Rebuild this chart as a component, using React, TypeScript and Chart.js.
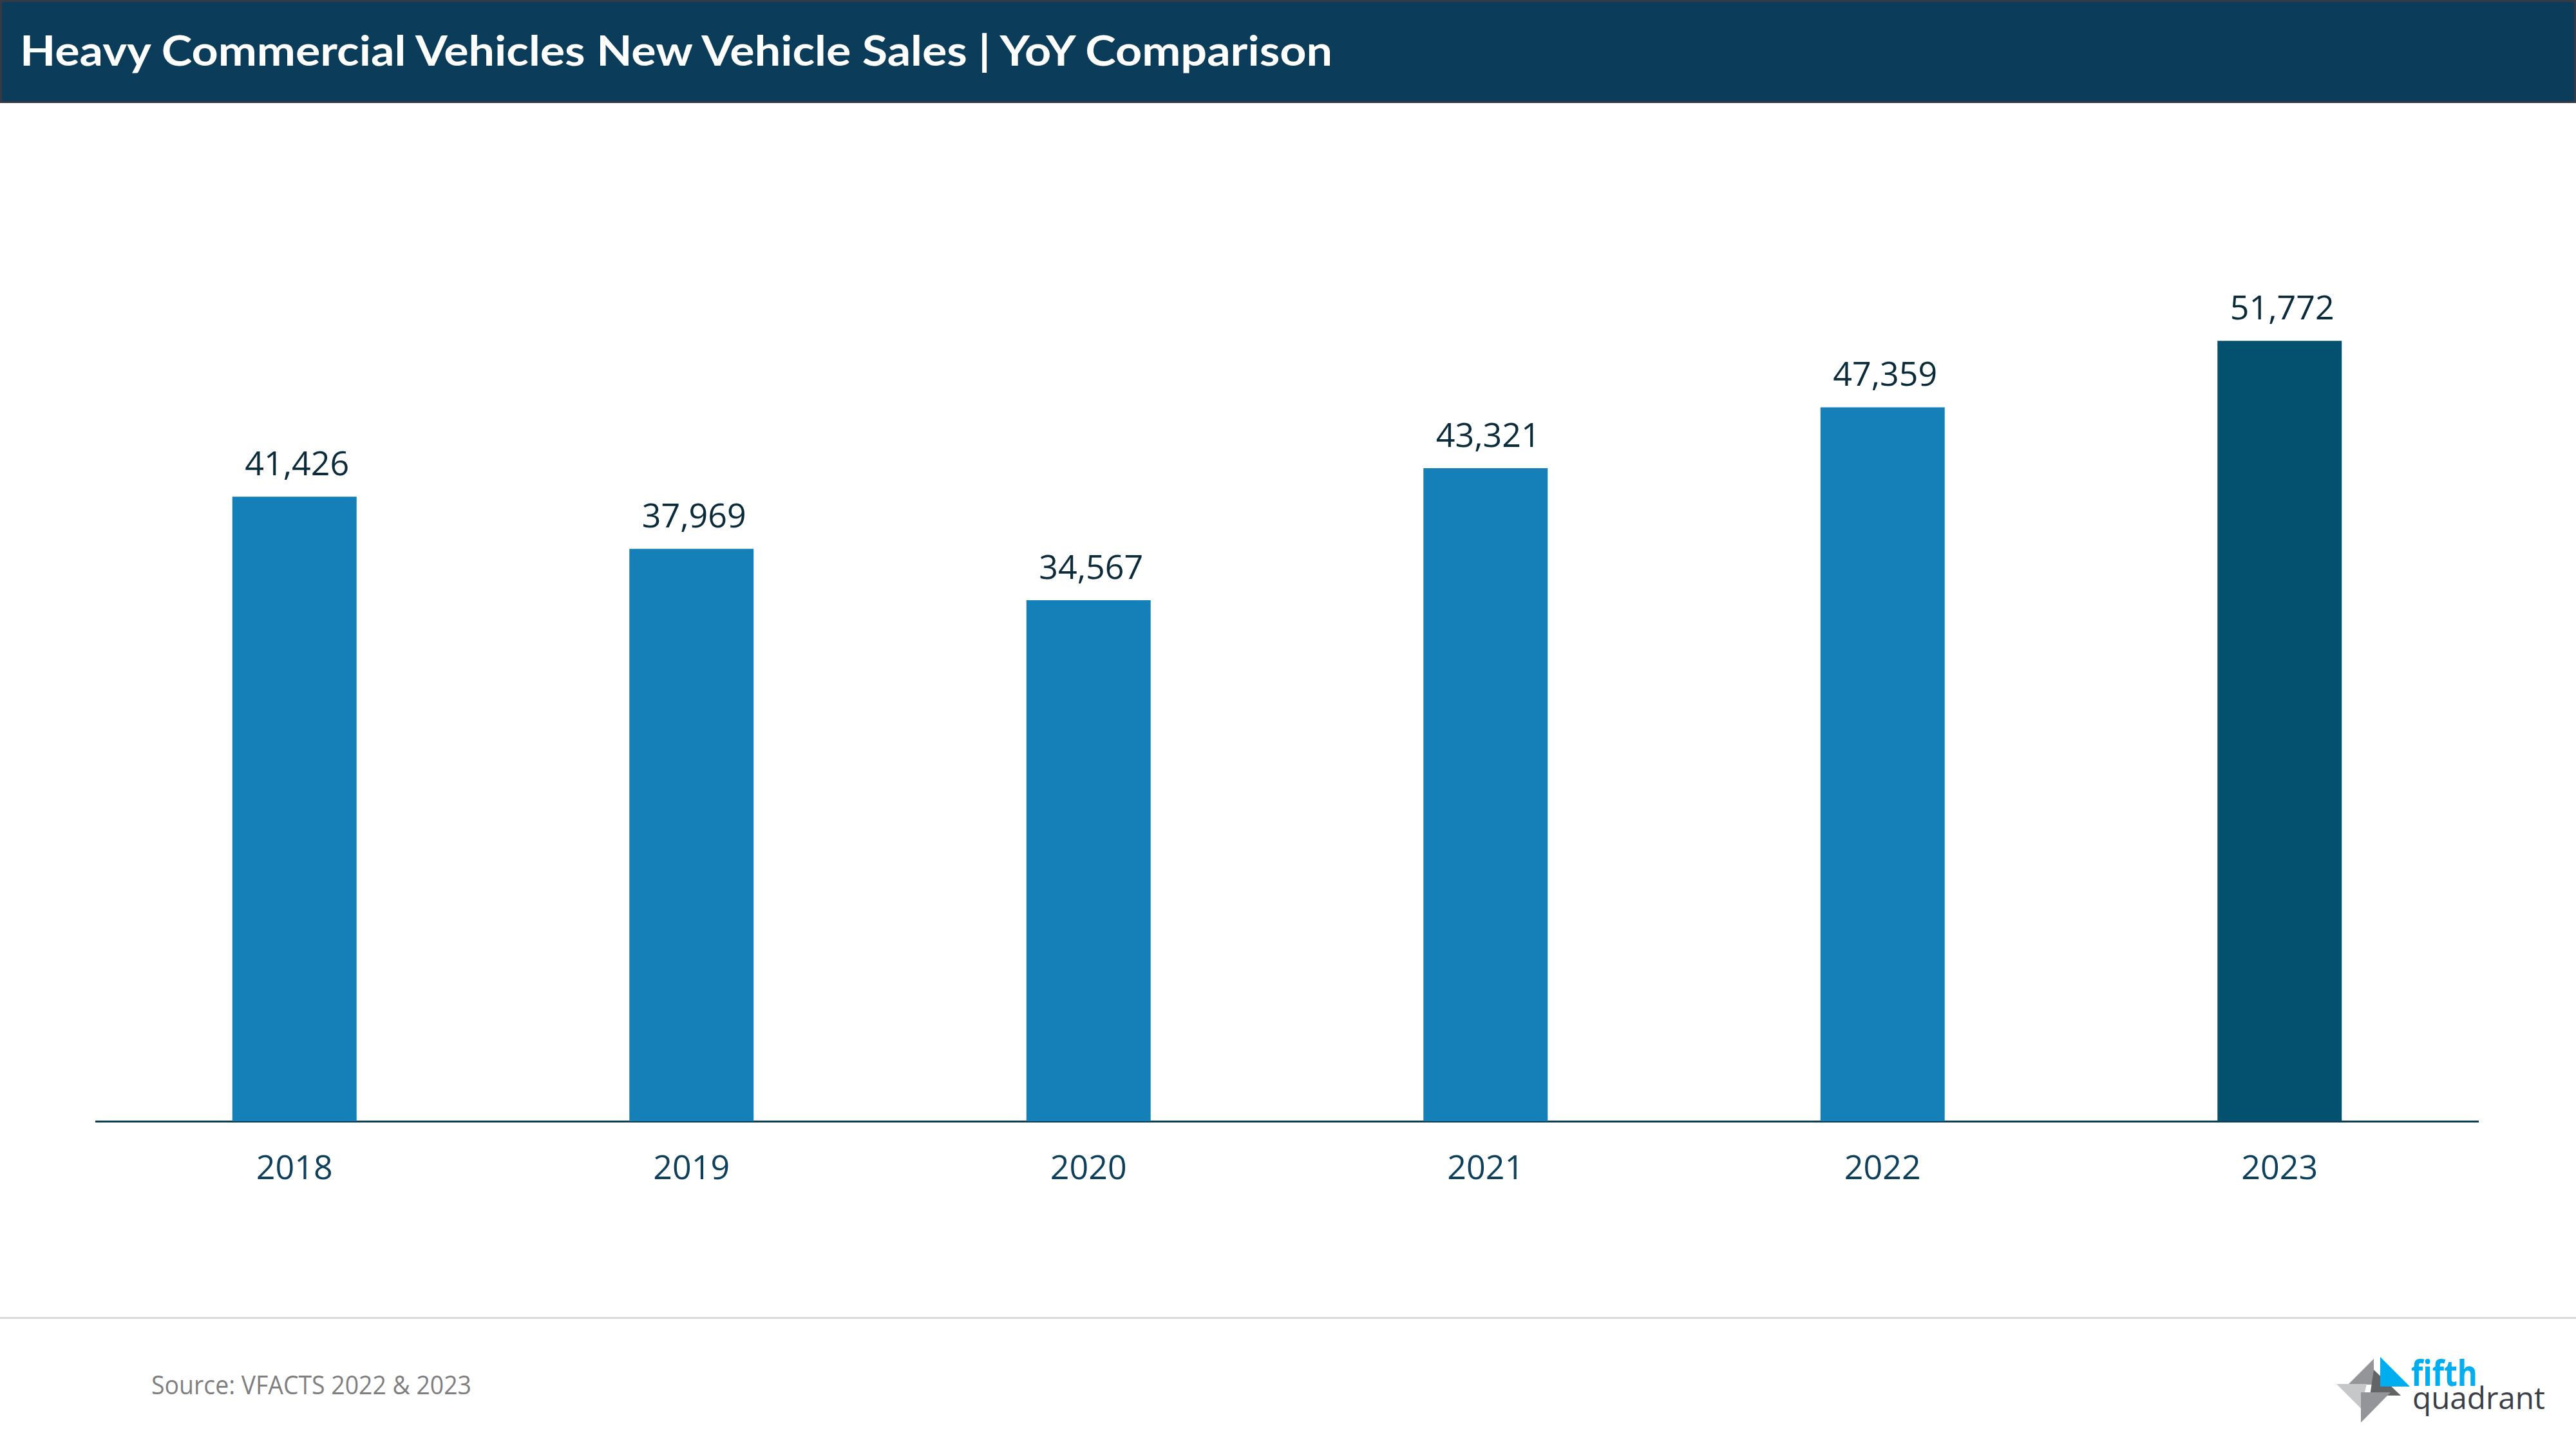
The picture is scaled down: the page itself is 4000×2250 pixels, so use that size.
import React, { useEffect, useRef } from "react";
import { Chart, registerables } from "chart.js";

Chart.register(...registerables);

const years = ["2018", "2019", "2020", "2021", "2022", "2023"];
const sales = [41426, 37969, 34567, 43321, 47359, 51772];
const barColors = ["#157fb8", "#157fb8", "#157fb8", "#157fb8", "#157fb8", "#03506f"];
const yMax = 60000;
const titleText = "Heavy Commercial Vehicles New Vehicle Sales | YoY Comparison";
const sourceText = "Source: VFACTS 2022 & 2023";

const labelPlugin = {
  id: "barLabels",
  afterDatasetsDraw(chart: any) {
    const ctx = chart.ctx;
    const meta = chart.getDatasetMeta(0);
    ctx.save();
    ctx.font = "52px 'Open Sans'";
    ctx.fillStyle = "#0b2b3b";
    ctx.textAlign = "center";
    ctx.textBaseline = "alphabetic";
    meta.data.forEach((bar: any, i: number) => {
      ctx.fillText(sales[i].toLocaleString("en-US"), bar.x + 4, bar.y - 33);
    });
    ctx.restore();
  },
};

export default function App() {
  const canvasRef = useRef<HTMLCanvasElement | null>(null);

  useEffect(() => {
    const canvas = canvasRef.current;
    if (!canvas) return;
    const chart = new Chart(canvas, {
      type: "bar",
      data: {
        labels: years,
        datasets: [
          {
            data: sales,
            backgroundColor: barColors,
            barPercentage: 0.313,
            categoryPercentage: 1,
            borderWidth: 0,
          },
        ],
      },
      options: {
        responsive: false,
        animation: false,
        devicePixelRatio: 1,
        layout: { padding: { left: 149, right: 152, top: 336.6, bottom: 358.6 } },
        plugins: {
          legend: { display: false },
          tooltip: { enabled: false },
          title: { display: false },
        },
        scales: {
          x: {
            grid: { display: false, drawTicks: false },
            border: { display: true, color: "#0b3c5a", width: 3 },
            ticks: {
              color: "#0e3f5c",
              font: { family: "'Open Sans'", size: 52 },
              padding: 44,
            },
          },
          y: { display: false, min: 0, max: yMax },
        },
      },
      plugins: [labelPlugin],
    } as any);
    return () => chart.destroy();
  }, []);

  return (
    <div style={{ position: "absolute", left: 0, top: 0, width: 4000, height: 2250, background: "#ffffff", overflow: "hidden" }}>
      <svg width={4000} height={2250} viewBox="0 0 4000 2250" style={{ position: "absolute", left: 0, top: 0 }}>
        <rect x={0} y={0} width={4000} height={160} fill="#343b45" />
        <rect x={3} y={3} width={3994} height={154} fill="#0b3c5a" />
        <text x={31} y={102} fill="#ffffff" fontFamily="Lato" fontWeight={700} fontSize={65} textLength={2038} lengthAdjust="spacingAndGlyphs">
          {titleText}
        </text>
        <rect x={0} y={2045} width={4000} height={3} fill="#d9d9d9" />
        <text x={235} y={2165} fill="#7f7f7f" fontFamily="'Open Sans'" fontSize={40} textLength={497} lengthAdjust="spacingAndGlyphs">
          {sourceText}
        </text>
        {/* logo */}
        <polygon points="3686,2110 3646,2150 3686,2150" fill="#939598" />
        <polygon points="3686,2127 3728,2167 3680,2167" fill="#636466" />
        <polygon points="3628,2149 3675,2149 3666,2187" fill="#c6c7c9" />
        <polygon points="3666,2162 3712,2162 3666,2209" fill="#939598" />
        <polygon points="3696,2107 3696,2153 3742,2153" fill="#00aeef" />
        <text x={3744} y={2152} fill="#00aeef" fontFamily="'Open Sans'" fontWeight={700} fontSize={56} textLength={103} lengthAdjust="spacingAndGlyphs">
          fifth
        </text>
        <text x={3746} y={2188} fill="#3a3f47" fontFamily="'Open Sans'" fontSize={48} textLength={206} lengthAdjust="spacingAndGlyphs">
          quadrant
        </text>
      </svg>
      <canvas ref={canvasRef} width={4000} height={2250} style={{ position: "absolute", left: 0, top: 0, display: "block" }} />
    </div>
  );
}
